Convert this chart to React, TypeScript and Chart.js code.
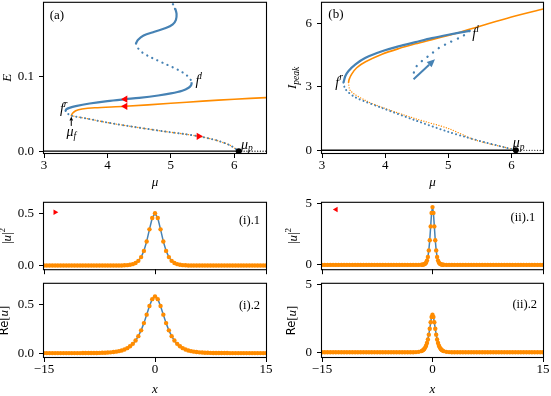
import React, { useEffect, useRef } from "react";
import { Chart, registerables } from "chart.js";

Chart.register(...registerables);

const BLUE = "#4682b4";
const ORANGE = "#ff8c00";
const RED = "#ff0000";
const SERIF = '"Liberation Serif", "Times New Roman", serif';
const SANS = '"DejaVu Sans", "Liberation Sans", sans-serif';

// ---------------- Panel (a): E vs mu ----------------
const aBlueTopDotMu = [4.99, 5.04, 5.07];
const aBlueTopDotE = [0.204, 0.197, 0.191];
const aBlueTopMu = [5.07, 5.09, 5.08, 5.03, 4.92, 4.74, 4.57, 4.48, 4.45];
const aBlueTopE = [0.192, 0.185, 0.177, 0.171, 0.166, 0.161, 0.156, 0.15, 0.145];
const aBlueMidMu = [4.45, 4.48, 4.55, 4.65, 4.77, 4.9, 5.03, 5.15, 5.24, 5.3, 5.33];
const aBlueMidE = [0.145, 0.139, 0.133, 0.128, 0.123, 0.118, 0.113, 0.108, 0.103, 0.098, 0.093];
const aBlueUpperMu = [5.33, 5.32, 5.28, 5.18, 5.0, 4.8, 4.5, 4.28, 4.0, 3.72, 3.5, 3.4, 3.35, 3.34];
const aBlueUpperE = [0.093, 0.089, 0.0855, 0.0815, 0.0778, 0.075, 0.0718, 0.07, 0.0675, 0.0642, 0.0607, 0.0583, 0.0563, 0.0543];
const aBlueLowerMu = [3.34, 3.36, 3.4, 3.43, 3.7, 4.0, 4.36, 4.88, 5.2, 5.44, 5.6, 5.73, 5.85, 5.94, 6.02, 6.07];
const aBlueLowerE = [0.0543, 0.0515, 0.049, 0.0478, 0.0435, 0.0385, 0.0335, 0.0268, 0.0232, 0.02, 0.0172, 0.0143, 0.0108, 0.0076, 0.0032, 0];
const aOrangeUpperMu = [3.43, 3.45, 3.5, 3.6, 3.8, 4.28, 5.0, 5.5, 6.0, 6.5];
const aOrangeUpperE = [0.0478, 0.051, 0.0545, 0.0568, 0.0585, 0.0605, 0.0645, 0.0675, 0.07, 0.0722];
const aOrangeLowerMu = [3.43, 3.7, 4.0, 4.36, 4.88, 5.2, 5.44, 5.6, 5.73, 5.85, 5.94, 6.02, 6.07];
const aOrangeLowerE = [0.0478, 0.0435, 0.0385, 0.0335, 0.0268, 0.0232, 0.02, 0.0172, 0.0143, 0.0108, 0.0076, 0.0032, 0];
const aTriLeftMu = [4.28, 4.28];
const aTriLeftE = [0.07, 0.0605];
const aTriRightMu = [5.44];
const aTriRightE = [0.02];
const aMuFArrowMu = [3.43, 3.43];
const aMuFArrowE = [0.034, 0.0468];

// ---------------- Panel (b): I_peak vs mu ----------------
const bBlueUpperMu = [5.34, 5.27, 5.0, 4.74, 4.48, 4.21, 3.95, 3.69, 3.53, 3.42, 3.37, 3.34];
const bBlueUpperI = [5.64, 5.61, 5.46, 5.3, 5.11, 4.91, 4.68, 4.37, 4.06, 3.75, 3.51, 3.2];
const bBlueLowerMu = [3.34, 3.37, 3.53, 3.95, 4.48, 5.0, 5.27, 5.6, 5.9, 6.07];
const bBlueLowerI = [3.2, 2.89, 2.5, 2.0, 1.41, 0.87, 0.63, 0.36, 0.13, 0];
const bBlueInnerMu = [5.34, 5.22, 5.0, 4.85, 4.72, 4.58, 4.48, 4.45, 4.45];
const bBlueInnerI = [5.64, 5.38, 5.07, 4.83, 4.53, 4.21, 3.9, 3.59, 3.36];
const bArrowMu = [4.45, 4.79];
const bArrowI = [3.36, 4.3];
const bOrangeUpperMu = [6.5, 6.0, 5.5, 5.2, 5.0, 4.74, 4.48, 4.21, 3.95, 3.69, 3.55, 3.47, 3.43, 3.42];
const bOrangeUpperI = [6.68, 6.3, 5.86, 5.59, 5.43, 5.23, 5.03, 4.8, 4.54, 4.18, 3.9, 3.6, 3.35, 3.2];
const bOrangeLowerMu = [3.42, 3.45, 3.69, 3.95, 4.48, 5.0, 5.43, 5.96, 6.07];
const bOrangeLowerI = [3.2, 2.81, 2.35, 2.03, 1.49, 1.03, 0.48, 0.09, 0];

// shared baseline (trivial state) and pump point
const baseMu = [3, 6.07];
const baseVal = [0, 0];
const baseDotMu = [6.07, 6.5];
const baseDotVal = [0, 0];
const muPMu = [6.07];
const muPVal = [0];

// ---------------- Profiles ----------------
const xTailLeft = [-15, -14.625, -14.25, -13.875, -13.5, -13.125, -12.75, -12.375, -12, -11.625, -11.25, -10.875, -10.5, -10.125, -9.75, -9.375, -9, -8.625, -8.25, -7.875, -7.5, -7.125, -6.75, -6.375, -6, -5.625, -5.25, -4.875, -4.5, -4.125, -3.75, -3.375, -3, -2.625, -2.25, -1.875];
const xTailRight = [1.875, 2.25, 2.625, 3, 3.375, 3.75, 4.125, 4.5, 4.875, 5.25, 5.625, 6, 6.375, 6.75, 7.125, 7.5, 7.875, 8.25, 8.625, 9, 9.375, 9.75, 10.125, 10.5, 10.875, 11.25, 11.625, 12, 12.375, 12.75, 13.125, 13.5, 13.875, 14.25, 14.625, 15];
const xCoreI = [-1.5, -1.125, -0.75, -0.375, 0, 0.375, 0.75, 1.125, 1.5];
const xCoreII = [-1.5, -1.375, -1.25, -1.125, -1, -0.875, -0.75, -0.625, -0.5, -0.375, -0.25, -0.125, 0, 0.125, 0.25, 0.375, 0.5, 0.625, 0.75, 0.875, 1, 1.125, 1.25, 1.375, 1.5];

const i1TailL = [0, 0, 0, 0, 0, 0, 0, 0, 0, 0, 0, 0, 0, 0, 0, 0, 0, 0, 0, 0, 0, 0, 0, 0, 0, 0, 0.0003, 0.0006, 0.0011, 0.0021, 0.0039, 0.0072, 0.0133, 0.0246, 0.0449, 0.0806];
const i1Core = [0.1402, 0.2306, 0.3462, 0.4542, 0.5, 0.4542, 0.3462, 0.2306, 0.1402];
const i1TailR = [0.0806, 0.0449, 0.0246, 0.0133, 0.0072, 0.0039, 0.0021, 0.0011, 0.0006, 0.0003, 0, 0, 0, 0, 0, 0, 0, 0, 0, 0, 0, 0, 0, 0, 0, 0, 0, 0, 0, 0, 0, 0, 0, 0, 0, 0];

const i2TailL = [0, 0, 0, 0, 0, 0, 0, 0, 0, 0, 0, 0, 0, 0, 0.0003, 0.0005, 0.0006, 0.0009, 0.0012, 0.0016, 0.0022, 0.0031, 0.0042, 0.0057, 0.0078, 0.0107, 0.0146, 0.02, 0.0273, 0.0373, 0.0509, 0.0694, 0.0946, 0.1285, 0.1738, 0.2329];
const i2Core = [0.3071, 0.3939, 0.4827, 0.5528, 0.58, 0.5528, 0.4827, 0.3939, 0.3071];
const i2TailR = [0.2329, 0.1738, 0.1285, 0.0946, 0.0694, 0.0509, 0.0373, 0.0273, 0.02, 0.0146, 0.0107, 0.0078, 0.0057, 0.0042, 0.0031, 0.0022, 0.0016, 0.0012, 0.0009, 0.0006, 0.0005, 0.0003, 0, 0, 0, 0, 0, 0, 0, 0, 0, 0, 0, 0, 0, 0];

const ii1TailL = [0, 0, 0, 0, 0, 0, 0, 0, 0, 0, 0, 0, 0, 0, 0, 0, 0, 0, 0, 0, 0, 0, 0, 0, 0, 0, 0, 0, 0, 0, 0, 0, 0, 0, 0, 0.001];
const ii1Core = [0.0071, 0.0136, 0.026, 0.05, 0.096, 0.184, 0.349, 0.651, 1.18, 2.01, 3.13, 4.23, 4.7, 4.23, 3.13, 2.01, 1.18, 0.651, 0.349, 0.184, 0.096, 0.05, 0.026, 0.0136, 0.0071];
const ii1TailR = [0.001, 0, 0, 0, 0, 0, 0, 0, 0, 0, 0, 0, 0, 0, 0, 0, 0, 0, 0, 0, 0, 0, 0, 0, 0, 0, 0, 0, 0, 0, 0, 0, 0, 0, 0, 0];

const ii2TailL = [0, 0, 0, 0, 0, 0, 0, 0, 0, 0, 0, 0, 0, 0, 0, 0, 0, 0, 0, 0, 0, 0, 0, 0, 0, 0, 0, 0, 0, 0, 0, 0, 0.0013, 0.0037, 0.0106, 0.03];
const ii2Core = [0.085, 0.121, 0.171, 0.241, 0.341, 0.481, 0.675, 0.94, 1.291, 1.725, 2.199, 2.593, 2.75, 2.593, 2.199, 1.725, 1.291, 0.94, 0.675, 0.481, 0.341, 0.241, 0.171, 0.121, 0.085];
const ii2TailR = [0.03, 0.0106, 0.0037, 0.0013, 0, 0, 0, 0, 0, 0, 0, 0, 0, 0, 0, 0, 0, 0, 0, 0, 0, 0, 0, 0, 0, 0, 0, 0, 0, 0, 0, 0, 0, 0, 0, 0];

const i1MarkX = [-13.5];
const i1MarkY = [0.51];
const ii1MarkX = [-13.1];
const ii1MarkY = [4.5];

const xGridI = [...xTailLeft, ...xCoreI, ...xTailRight];
const xGridII = [...xTailLeft, ...xCoreII, ...xTailRight];
const i1Vals = [...i1TailL, ...i1Core, ...i1TailR];
const i2Vals = [...i2TailL, ...i2Core, ...i2TailR];
const ii1Vals = [...ii1TailL, ...ii1Core, ...ii1TailR];
const ii2Vals = [...ii2TailL, ...ii2Core, ...ii2TailR];

// ---------------- helpers ----------------
type Seg = { t: string; size: number; italic?: boolean; sans?: boolean; dy?: number };
type Txt = { x: number; y: number; segs: Seg[]; align: "left" | "center" | "right" };
type Arrow = { xs: number[]; ys: number[]; color: string; width: number; head: number };
type Panel = {
  box: { x: number; y: number; w: number; h: number };
  area: { l: number; t: number; r: number; b: number };
  xMin: number; xMax: number; yMin: number; yMax: number;
  xTicks: number[]; yTicks: number[]; xLabels: boolean; xDec: number; yDec: number;
  datasets: any[]; texts: Txt[]; arrows: Arrow[];
  xTitle?: Seg[]; xTitleOff: number; yTitle: Seg[]; yTitleOff: number;
};

const fontOf = (s: Seg) => `${s.italic ? "italic " : ""}${s.size}px ${s.sans ? SANS : SERIF}`;

function drawRich(ctx: CanvasRenderingContext2D, segs: Seg[], x: number, y: number, align: string, rot = 0) {
  ctx.save();
  ctx.translate(x, y);
  if (rot) ctx.rotate(rot);
  let w = 0;
  for (const s of segs) {
    ctx.font = fontOf(s);
    w += ctx.measureText(s.t).width;
  }
  let cx = align === "left" ? 0 : align === "center" ? -w / 2 : -w;
  ctx.textBaseline = "middle";
  ctx.textAlign = "left";
  ctx.fillStyle = "#000";
  for (const s of segs) {
    ctx.font = fontOf(s);
    ctx.fillText(s.t, cx, s.dy || 0);
    cx += ctx.measureText(s.t).width;
  }
  ctx.restore();
}

function drawArrow(ctx: CanvasRenderingContext2D, x1: number, y1: number, x2: number, y2: number, color: string, width: number, head: number) {
  const ang = Math.atan2(y2 - y1, x2 - x1);
  const bx = x2 - head * Math.cos(ang);
  const by = y2 - head * Math.sin(ang);
  ctx.save();
  ctx.strokeStyle = color;
  ctx.fillStyle = color;
  ctx.lineWidth = width;
  ctx.beginPath();
  ctx.moveTo(x1, y1);
  ctx.lineTo(bx, by);
  ctx.stroke();
  ctx.beginPath();
  ctx.moveTo(x2, y2);
  ctx.lineTo(bx + head * 0.45 * Math.sin(ang), by - head * 0.45 * Math.cos(ang));
  ctx.lineTo(bx - head * 0.45 * Math.sin(ang), by + head * 0.45 * Math.cos(ang));
  ctx.closePath();
  ctx.fill();
  ctx.restore();
}

const pts = (xs: number[], ys: number[]) => xs.map((x, i) => ({ x, y: ys[i] }));

function curve(xs: number[], ys: number[], color: string, width: number, dash: number[] | null, order: number, tension = 0.3) {
  return {
    data: pts(xs, ys), showLine: true, borderColor: color, borderWidth: width,
    borderDash: dash || [], borderCapStyle: dash ? "round" : "butt", borderJoinStyle: "round",
    pointRadius: 0, pointHoverRadius: 0, tension, order, fill: false,
  };
}

function marks(xs: number[], ys: number[], color: string, radius: number, style: string, rotation: number, order: number) {
  return {
    data: pts(xs, ys), showLine: false, pointStyle: style, pointRadius: radius, pointHoverRadius: radius,
    pointRotation: rotation, pointBackgroundColor: color, pointBorderColor: color, pointBorderWidth: 0, order,
  };
}

const it = (t: string, size = 14, dy = 0): Seg => ({ t, size, italic: true, dy });
const rm = (t: string, size = 13, dy = 0): Seg => ({ t, size, dy });

const absU2: Seg[] = [rm("|", 13), it("u", 13), rm("|", 13), rm("2", 9, -5)];
const reU: Seg[] = [{ t: "Re", size: 11.5, sans: true }, rm("[", 13), it("u", 13), rm("]", 13)];

// ---------------- panels ----------------
const PANELS: Panel[] = [
  {
    box: { x: 0, y: -10, w: 280, h: 206 },
    area: { l: 44, t: 1, r: 266, b: 153 },
    xMin: 3, xMax: 6.5, yMin: -0.0025, yMax: 0.2,
    xTicks: [3, 4, 5, 6], yTicks: [0, 0.1], xLabels: true, xDec: 0, yDec: 1,
    datasets: [
      curve(baseMu, baseVal, "#000", 1.3, null, 20, 0),
      curve(baseDotMu, baseDotVal, "#000", 1.2, [0.1, 2.6], 20, 0),
      curve(aOrangeUpperMu, aOrangeUpperE, ORANGE, 1.6, null, 9),
      curve(aOrangeLowerMu, aOrangeLowerE, ORANGE, 1.4, [0.1, 2.6], 9),
      curve(aBlueTopDotMu, aBlueTopDotE, BLUE, 2.2, [0.1, 5], 5),
      curve(aBlueTopMu, aBlueTopE, BLUE, 2.2, null, 5),
      curve(aBlueMidMu, aBlueMidE, BLUE, 2.2, [0.1, 5.5], 5),
      curve(aBlueUpperMu, aBlueUpperE, BLUE, 2.2, null, 5),
      curve(aBlueLowerMu, aBlueLowerE, BLUE, 2.0, [0.1, 4.2], 5),
      marks(aTriLeftMu, aTriLeftE, RED, 4.2, "triangle", -90, 1),
      marks(aTriRightMu, aTriRightE, RED, 4.2, "triangle", 90, 1),
      marks(muPMu, muPVal, "#000", 3, "circle", 0, 1),
    ],
    texts: [
      { x: 3.09, y: 0.183, segs: [rm("(a)", 13)], align: "left" },
      { x: 3.37, y: 0.056, segs: [it("f"), it("r", 9.5, -5)], align: "right" },
      { x: 5.39, y: 0.094, segs: [it("f"), it("l", 9.5, -5)], align: "left" },
      { x: 3.355, y: 0.025, segs: [it("μ"), it("f", 9.5, 4)], align: "left" },
      { x: 6.107, y: 0.0085, segs: [it("μ"), it("p", 9.5, 4)], align: "left" },
    ],
    arrows: [{ xs: aMuFArrowMu, ys: aMuFArrowE, color: "#000", width: 1, head: 4 }],
    xTitle: [it("μ", 13)], xTitleOff: 30,
    yTitle: [it("E", 13)], yTitleOff: 36,
  },
  {
    box: { x: 278, y: -10, w: 273, h: 206 },
    area: { l: 322, t: 1, r: 543, b: 153 },
    xMin: 3, xMax: 6.5, yMin: -0.13, yMax: 6.97,
    xTicks: [3, 4, 5, 6], yTicks: [0, 3, 6], xLabels: true, xDec: 0, yDec: 0,
    datasets: [
      curve(baseMu, baseVal, "#000", 1.3, null, 20, 0),
      curve(baseDotMu, baseDotVal, "#000", 1.2, [0.1, 2.6], 20, 0),
      curve(bOrangeUpperMu, bOrangeUpperI, ORANGE, 1.6, null, 9),
      curve(bOrangeLowerMu, bOrangeLowerI, ORANGE, 1.3, [0.1, 2.5], 9),
      curve(bBlueUpperMu, bBlueUpperI, BLUE, 2.2, null, 5),
      curve(bBlueLowerMu, bBlueLowerI, BLUE, 2.0, [0.1, 4], 5),
      curve(bBlueInnerMu, bBlueInnerI, BLUE, 2.3, [0.1, 7], 5),
      marks(muPMu, muPVal, "#000", 3, "circle", 0, 1),
    ],
    texts: [
      { x: 3.1, y: 6.41, segs: [rm("(b)", 13)], align: "left" },
      { x: 3.33, y: 3.18, segs: [it("f"), it("r", 9.5, -5)], align: "right" },
      { x: 5.38, y: 5.47, segs: [it("f"), it("l", 9.5, -5)], align: "left" },
      { x: 6.02, y: 0.34, segs: [it("μ"), it("p", 9.5, 4)], align: "left" },
    ],
    arrows: [{ xs: bArrowMu, ys: bArrowI, color: BLUE, width: 2, head: 8 }],
    xTitle: [it("μ", 13)], xTitleOff: 30,
    yTitle: [it("I", 13), it("peak", 9.5, 3)], yTitleOff: 29,
  },
  {
    box: { x: 0, y: 190, w: 280, h: 92 },
    area: { l: 44, t: 201, r: 266, b: 276 },
    xMin: -15, xMax: 15, yMin: -0.035, yMax: 0.6,
    xTicks: [-15, 0, 15], yTicks: [0, 0.5], xLabels: false, xDec: 0, yDec: 1,
    datasets: [
      curve(xGridI, i1Vals, BLUE, 1.5, null, 6, 0),
      marks(xGridI, i1Vals, ORANGE, 2.2, "circle", 0, 3),
      marks(i1MarkX, i1MarkY, RED, 3.2, "triangle", 90, 1),
    ],
    texts: [{ x: 14.2, y: 0.43, segs: [rm("(i).1", 12.5)], align: "right" }],
    arrows: [],
    xTitleOff: 0,
    yTitle: absU2, yTitleOff: 36,
  },
  {
    box: { x: 0, y: 271, w: 280, h: 125 },
    area: { l: 44, t: 282, r: 266, b: 357 },
    xMin: -15, xMax: 15, yMin: -0.04, yMax: 0.71,
    xTicks: [-15, 0, 15], yTicks: [0, 0.5], xLabels: true, xDec: 0, yDec: 1,
    datasets: [
      curve(xGridI, i2Vals, BLUE, 1.5, null, 6, 0),
      marks(xGridI, i2Vals, ORANGE, 2.2, "circle", 0, 3),
    ],
    texts: [{ x: 14.2, y: 0.49, segs: [rm("(i).2", 12.5)], align: "right" }],
    arrows: [],
    xTitle: [it("x", 13)], xTitleOff: 33,
    yTitle: reU, yTitleOff: 39,
  },
  {
    box: { x: 278, y: 190, w: 273, h: 92 },
    area: { l: 322, t: 201, r: 543, b: 276 },
    xMin: -15, xMax: 15, yMin: -0.35, yMax: 5.05,
    xTicks: [-15, 0, 15], yTicks: [0, 5], xLabels: false, xDec: 0, yDec: 0,
    datasets: [
      curve(xGridII, ii1Vals, BLUE, 1.5, null, 6, 0),
      marks(xGridII, ii1Vals, ORANGE, 2.2, "circle", 0, 3),
      marks(ii1MarkX, ii1MarkY, RED, 3.2, "triangle", -90, 1),
    ],
    texts: [{ x: 13.95, y: 3.82, segs: [rm("(ii).1", 12.5)], align: "right" }],
    arrows: [],
    xTitleOff: 0,
    yTitle: absU2, yTitleOff: 28.5,
  },
  {
    box: { x: 278, y: 271, w: 273, h: 125 },
    area: { l: 322, t: 282, r: 543, b: 357 },
    xMin: -15, xMax: 15, yMin: -0.35, yMax: 5.03,
    xTicks: [-15, 0, 15], yTicks: [0, 5], xLabels: true, xDec: 0, yDec: 0,
    datasets: [
      curve(xGridII, ii2Vals, BLUE, 1.5, null, 6, 0),
      marks(xGridII, ii2Vals, ORANGE, 2.2, "circle", 0, 3),
    ],
    texts: [{ x: 14.2, y: 3.48, segs: [rm("(ii).2", 12.5)], align: "right" }],
    arrows: [],
    xTitle: [it("x", 13)], xTitleOff: 33,
    yTitle: reU, yTitleOff: 29.5,
  },
];

const fmt = (v: number, d: number) => (v < 0 ? "\u2212" : "") + Math.abs(v).toFixed(d);

function buildChart(canvas: HTMLCanvasElement, p: Panel) {
  const deco = {
    id: "deco",
    afterDatasetsDraw(chart: any) {
      const { ctx, chartArea: a, scales } = chart;
      const sx = scales.x;
      const sy = scales.y;
      for (const ar of p.arrows) {
        const n = ar.xs.length;
        drawArrow(ctx, sx.getPixelForValue(ar.xs[0]), sy.getPixelForValue(ar.ys[0]),
          sx.getPixelForValue(ar.xs[n - 1]), sy.getPixelForValue(ar.ys[n - 1]), ar.color, ar.width, ar.head);
      }
      for (const t of p.texts) {
        drawRich(ctx, t.segs, sx.getPixelForValue(t.x), sy.getPixelForValue(t.y), t.align);
      }
      ctx.save();
      ctx.strokeStyle = "#000";
      ctx.lineWidth = 1.1;
      ctx.strokeRect(a.left - 0.5, a.top - 0.5, a.right - a.left + 1, a.bottom - a.top + 1);
      ctx.restore();
      drawRich(ctx, p.yTitle, a.left - p.yTitleOff, (a.top + a.bottom) / 2, "center", -Math.PI / 2);
      if (p.xTitle) drawRich(ctx, p.xTitle, (a.left + a.right) / 2, a.bottom + p.xTitleOff, "center");
    },
  };
  return new Chart(canvas, {
    type: "scatter",
    data: { datasets: p.datasets },
    options: {
      animation: false,
      responsive: false,
      maintainAspectRatio: false,
      events: [],
      layout: {
        padding: { left: 0, top: p.area.t - p.box.y, right: p.box.x + p.box.w - p.area.r, bottom: 0 },
      },
      plugins: { legend: { display: false }, tooltip: { enabled: false } },
      scales: {
        x: {
          type: "linear", min: p.xMin, max: p.xMax,
          afterBuildTicks: (s: any) => { s.ticks = p.xTicks.map((v) => ({ value: v })); },
          afterFit: (s: any) => { s.height = p.box.y + p.box.h - p.area.b; },
          grid: { drawOnChartArea: false, drawTicks: true, tickLength: 5, color: "#000", lineWidth: 1 },
          border: { display: false },
          ticks: {
            display: p.xLabels, color: "#000", font: { family: SERIF, size: 13 }, padding: 0,
            maxRotation: 0, autoSkip: false, callback: (v: any) => fmt(Number(v), p.xDec),
          },
        },
        y: {
          type: "linear", min: p.yMin, max: p.yMax,
          afterBuildTicks: (s: any) => { s.ticks = p.yTicks.map((v) => ({ value: v })); },
          afterFit: (s: any) => { s.width = p.area.l - p.box.x; },
          grid: { drawOnChartArea: false, drawTicks: true, tickLength: 5, color: "#000", lineWidth: 1 },
          border: { display: false },
          ticks: {
            color: "#000", font: { family: SERIF, size: 13 }, padding: 5,
            autoSkip: false, callback: (v: any) => fmt(Number(v), p.yDec),
          },
        },
      },
    } as any,
    plugins: [deco],
  } as any);
}

export default function App() {
  const refs = useRef<(HTMLCanvasElement | null)[]>([]);
  useEffect(() => {
    const charts = PANELS.map((p, i) => buildChart(refs.current[i] as HTMLCanvasElement, p));
    return () => charts.forEach((c) => c.destroy());
  }, []);
  return (
    <div style={{ position: "absolute", left: 0, top: 0, width: 551, height: 396, overflow: "hidden", background: "#fff" }}>
      {PANELS.map((p, i) => (
        <canvas
          key={i}
          ref={(el) => { refs.current[i] = el; }}
          width={p.box.w}
          height={p.box.h}
          style={{ position: "absolute", left: p.box.x, top: p.box.y, width: p.box.w, height: p.box.h }}
        />
      ))}
    </div>
  );
}
